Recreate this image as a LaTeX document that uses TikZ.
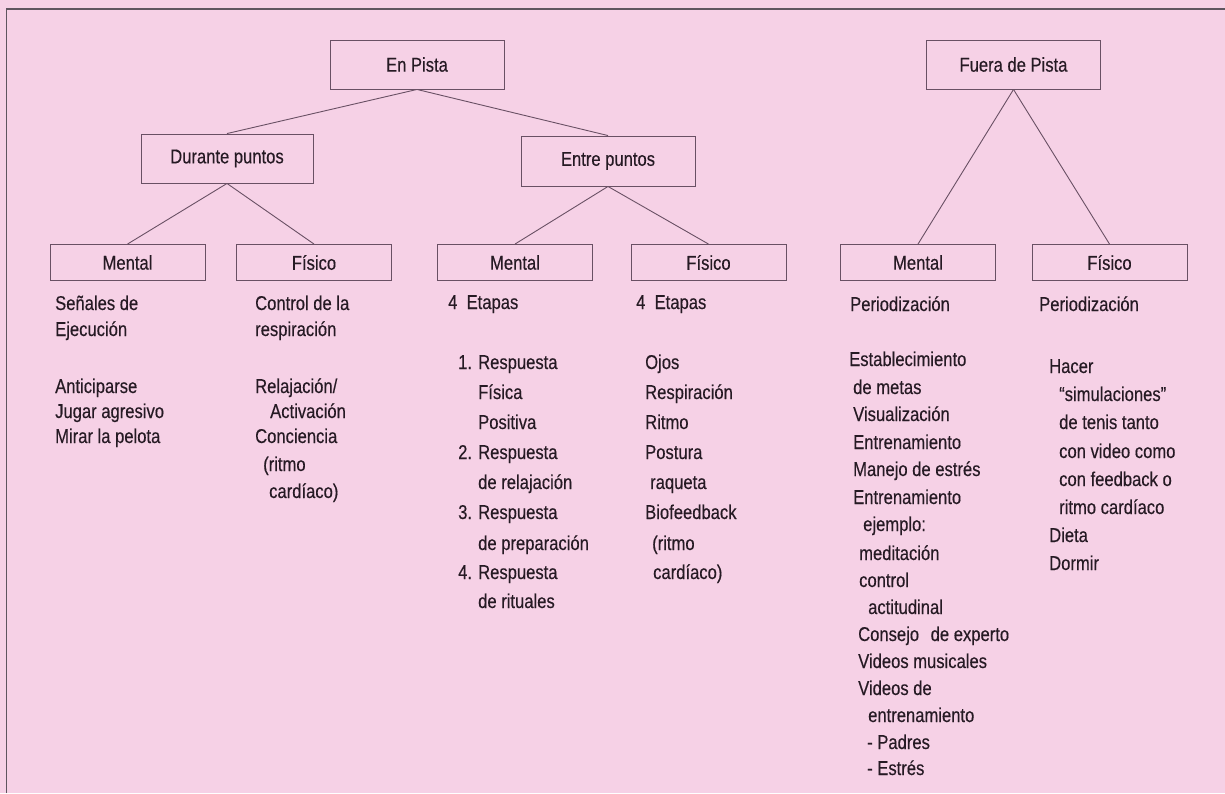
\documentclass[tikz,border=0pt]{standalone}
\usepackage{fontspec}
\setmainfont{Liberation Sans}[FakeStretch=0.83,FakeBold=0.3]
\definecolor{bg}{RGB}{246,209,230}
\definecolor{ink}{RGB}{38,26,36}
\definecolor{rulec}{RGB}{105,80,100}
\definecolor{framec}{RGB}{95,85,95}
\begin{document}
\begin{tikzpicture}[x=1pt,y=-1pt,
  box/.style={draw=rulec, line width=0.9pt, inner sep=0pt, font=\fontsize{20}{24}\selectfont, text=ink},
  bigbox/.style={box, minimum width=174pt, minimum height=49pt},
  smallbox/.style={box, minimum width=155pt, minimum height=36pt},
  link/.style={draw=rulec, line width=0.9pt},
  txt/.style={anchor=base west, inner sep=0pt, font=\fontsize{20}{24}\selectfont, text=ink}]
\fill[bg] (0,0) rectangle (1225,793);
\useasboundingbox (0,0) rectangle (1225,793);
\coordinate (tl) at (6.5,9);
\coordinate (tr) at (1225,9);
\coordinate (bl) at (6.5,793);
\draw[line width=1.3pt, draw=framec] (bl) -- (tl) -- (tr);

% boxes
\node[bigbox] (enpista) at (417,64.5) {En Pista};
\node[bigbox] (fuera) at (1013.5,64.5) {Fuera de Pista};
\node[bigbox, minimum width=172pt] (durante) at (227,158.5) {Durante puntos};
\node[bigbox, minimum height=50pt] (entre) at (608,161) {Entre puntos};
\node[smallbox] (m1) at (127.5,262.5) {Mental};
\node[smallbox] (f1) at (314,262.5) {Físico};
\node[smallbox] (m2) at (515,262.5) {Mental};
\node[smallbox] (f2) at (708.5,262.5) {Físico};
\node[smallbox] (m3) at (918,262.5) {Mental};
\node[smallbox] (f3) at (1109.5,262.5) {Físico};

% connectors
\draw[link] (enpista.south) -- (durante.north);
\draw[link] (enpista.south) -- (entre.north);
\draw[link] (durante.south) -- (m1.north);
\draw[link] (durante.south) -- (f1.north);
\draw[link] (entre.south) -- (m2.north);
\draw[link] (entre.south) -- (f2.north);
\draw[link] (fuera.south) -- (m3.north);
\draw[link] (fuera.south) -- (f3.north);

% column 1
\node[txt] (a1) at (55,310) {Señales de};
\node[txt] (a2) at (55,336) {Ejecución};
\node[txt] (a3) at (55,393) {Anticiparse};
\node[txt] (a4) at (55,418) {Jugar agresivo};
\node[txt] (a5) at (55,443) {Mirar la pelota};

% column 2
\node[txt] (b1) at (255,310) {Control de la};
\node[txt] (b2) at (255,336) {respiración};
\node[txt] (b3) at (255,393) {Relajación/};
\node[txt] (b4) at (270,418) {Activación};
\node[txt] (b5) at (255,443) {Conciencia};
\node[txt] (b6) at (263,471) {(ritmo};
\node[txt] (b7) at (269,498) {cardíaco)};

% column 3
\node[txt] (c0) at (448,309) {4\ \ Etapas};
\node[txt] (c1) at (458,369) {1. Respuesta};
\node[txt] (c2) at (478,399) {Física};
\node[txt] (c3) at (478,429) {Positiva};
\node[txt] (c4) at (458,459) {2. Respuesta};
\node[txt] (c5) at (478,489) {de relajación};
\node[txt] (c6) at (458,519) {3. Respuesta};
\node[txt] (c7) at (478,550) {de preparación};
\node[txt] (c8) at (458,579) {4. Respuesta};
\node[txt] (c9) at (478,608) {de rituales};

% column 4
\node[txt] (d0) at (636,309) {4\ \ Etapas};
\node[txt] (d1) at (645,369) {Ojos};
\node[txt] (d2) at (645,399) {Respiración};
\node[txt] (d3) at (645,429) {Ritmo};
\node[txt] (d4) at (645,459) {Postura};
\node[txt] (d5) at (650,489) {raqueta};
\node[txt] (d6) at (645,519) {Biofeedback};
\node[txt] (d7) at (652,550) {(ritmo};
\node[txt] (d8) at (653,579) {cardíaco)};

% column 5
\node[txt] (e0) at (850,311) {Periodización};
\node[txt] (e1) at (849,366) {Establecimiento};
\node[txt] (e2) at (853,394) {de metas};
\node[txt] (e3) at (853,421) {Visualización};
\node[txt] (e4) at (853,449) {Entrenamiento};
\node[txt] (e5) at (853,476) {Manejo de estrés};
\node[txt] (e6) at (853,504) {Entrenamiento};
\node[txt] (e7) at (863,531) {ejemplo:};
\node[txt] (e8) at (859,560) {meditación};
\node[txt] (e9) at (859,587) {control};
\node[txt] (e10) at (868,614) {actitudinal};
\node[txt] (e11) at (858,641) {Consejo\hspace{7pt} de experto};
\node[txt] (e12) at (858,668) {Videos musicales};
\node[txt] (e13) at (858,695) {Videos de};
\node[txt] (e14) at (868,722) {entrenamiento};
\node[txt] (e15) at (867,749) {- Padres};
\node[txt] (e16) at (867,775) {- Estrés};

% column 6
\node[txt] (g0) at (1039,311) {Periodización};
\node[txt] (g1) at (1049,373) {Hacer};
\node[txt] (g2) at (1059,401) {“simulaciones”};
\node[txt] (g3) at (1059,429) {de tenis tanto};
\node[txt] (g4) at (1059,458) {con video como};
\node[txt] (g5) at (1059,486) {con feedback o};
\node[txt] (g6) at (1059,514) {ritmo cardíaco};
\node[txt] (g7) at (1049,542) {Dieta};
\node[txt] (g8) at (1049,570) {Dormir};
\end{tikzpicture}
\end{document}
